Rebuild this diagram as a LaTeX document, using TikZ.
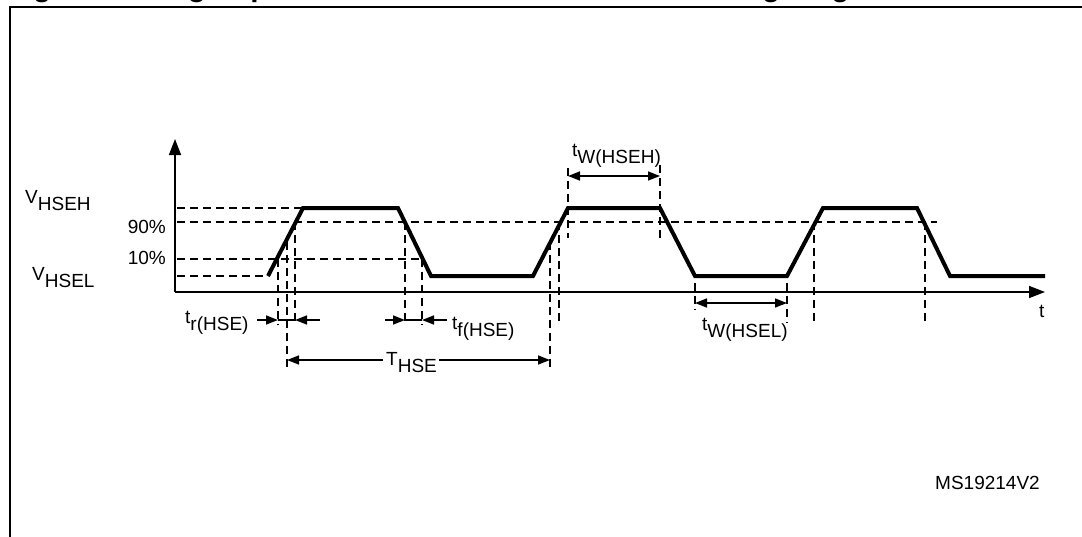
\documentclass[tikz,border=0pt]{standalone}
\usepackage{fontspec}
\setmainfont{Liberation Sans}
\usetikzlibrary{arrows.meta}
\newcommand\sbx[1]{\raisebox{-7pt}{#1}}
\begin{document}
\begin{tikzpicture}[x=1pt,y=-1pt,
  wave/.style={line width=4pt,line join=miter},
  axisline/.style={line width=1.5pt,-{Triangle[length=16pt,width=12pt]}},
  dimarrow/.style={line width=1.5pt,-{Triangle[length=12pt,width=9pt]}},
  dimline/.style={line width=1.5pt},
  guide/.style={line width=1.5pt,dash pattern=on 8pt off 5pt},
  lab/.style={inner sep=0pt,anchor=base west,font=\fontsize{19}{22}\selectfont},
  labr/.style={inner sep=0pt,anchor=base east,font=\fontsize{19}{22}\selectfont},
  frame/.style={line width=2pt}]
\useasboundingbox (0,0) rectangle (1082,536);
\clip (0,0) rectangle (1082,536);
% title (cut off at the top) and frame
\node[inner sep=0pt,anchor=base west,font=\fontsize{29.7}{32}\selectfont\bfseries] (title) at (6.6,-4) {Figure 20. High-speed external clock source AC timing diagram};
\draw[frame] (10,545) -- (10,7) -- (1090,7);
% axes
\coordinate (O) at (175,292);
\coordinate (Ytip) at (175,139);
\coordinate (Xtip) at (1045,292);
\draw[axisline] (O) -- (Ytip);
\draw[axisline] (O) -- (Xtip);
% waveform
\coordinate (p0) at (268,276);
\coordinate (p1) at (303,208);
\coordinate (p2) at (398,208);
\coordinate (p3) at (431,276);
\coordinate (p4) at (533,276);
\coordinate (p5) at (568,208);
\coordinate (p6) at (660,208);
\coordinate (p7) at (695,276);
\coordinate (p8) at (787,276);
\coordinate (p9) at (823,208);
\coordinate (p10) at (917,208);
\coordinate (p11) at (950,276);
\coordinate (p12) at (1045,276);
\draw[wave] (p0) -- (p1) -- (p2) -- (p3) -- (p4) -- (p5) -- (p6) -- (p7) -- (p8) -- (p9) -- (p10) -- (p11) -- (p12);
% horizontal guides
\draw[guide] (177,208) -- (p1);
\draw[guide] (177,222) -- (937,222);
\draw[guide] (177,259) -- (422,259);
\draw[guide] (177,276) -- (p0);
% vertical guides
\draw[guide] (278,259) -- (278,325);
\draw[guide] (287,242) -- (287,370);
\draw[guide] (295,222) -- (295,325);
\draw[guide] (405,222) -- (405,325);
\draw[guide] (422,259) -- (422,325);
\draw[guide] (550,242) -- (550,370);
\draw[guide] (559,222) -- (559,322);
\draw[guide] (568,168) -- (568,238);
\draw[guide] (660,165) -- (660,238);
\draw[guide] (695,283) -- (695,310);
\draw[guide] (787,283) -- (787,323);
\draw[guide] (814,222) -- (814,322);
\draw[guide] (925,222) -- (925,322);
% level labels
\node[lab] (vh) at (25,203) {V\sbx{HSEH}};
\node[lab] (vl) at (32,280) {V\sbx{HSEL}};
\node[labr] (p90) at (166,233) {90\%};
\node[labr] (p10l) at (166,264) {10\%};
% t_r
\coordinate (tra) at (257,320); \coordinate (trb) at (278,320);
\coordinate (trc) at (295,320); \coordinate (trd) at (320,320);
\draw[dimarrow] (tra) -- (trb);
\draw[dimline] (trb) -- (trc);
\draw[dimarrow] (trd) -- (trc);
\node[lab] (tr) at (185,323) {t\sbx{r(HSE)}};
% t_f
\coordinate (tfa) at (385,320); \coordinate (tfb) at (405,320);
\coordinate (tfc) at (422,320); \coordinate (tfd) at (447,320);
\draw[dimarrow] (tfa) -- (tfb);
\draw[dimline] (tfb) -- (tfc);
\draw[dimarrow] (tfd) -- (tfc);
\node[lab] (tf) at (452,329) {t\sbx{f(HSE)}};
% T_HSE
\coordinate (Ta) at (287,360); \coordinate (Tb) at (550,360);
\node[lab] (thse) at (386,365) {T\sbx{HSE}};
\draw[dimarrow] (383,360) -- (Ta);
\draw[dimarrow] (439,360) -- (Tb);
% t_W(HSEH)
\coordinate (wha) at (568,176); \coordinate (whb) at (660,176);
\draw[dimline,{Triangle[length=12pt,width=9pt]}-{Triangle[length=12pt,width=9pt]}] (wha) -- (whb);
\node[lab] (twh) at (572,156) {t\sbx{W(HSEH)}};
% t_W(HSEL)
\coordinate (wla) at (695,303); \coordinate (wlb) at (787,303);
\draw[dimline,{Triangle[length=12pt,width=9pt]}-{Triangle[length=12pt,width=9pt]}] (wla) -- (wlb);
\node[lab] (twl) at (702,330) {t\sbx{W(HSEL)}};
% axis label and reference
\node[lab] (tl) at (1039,317) {t};
\node[lab] (ms) at (935,489) {MS19214V2};
\end{tikzpicture}
\end{document}
